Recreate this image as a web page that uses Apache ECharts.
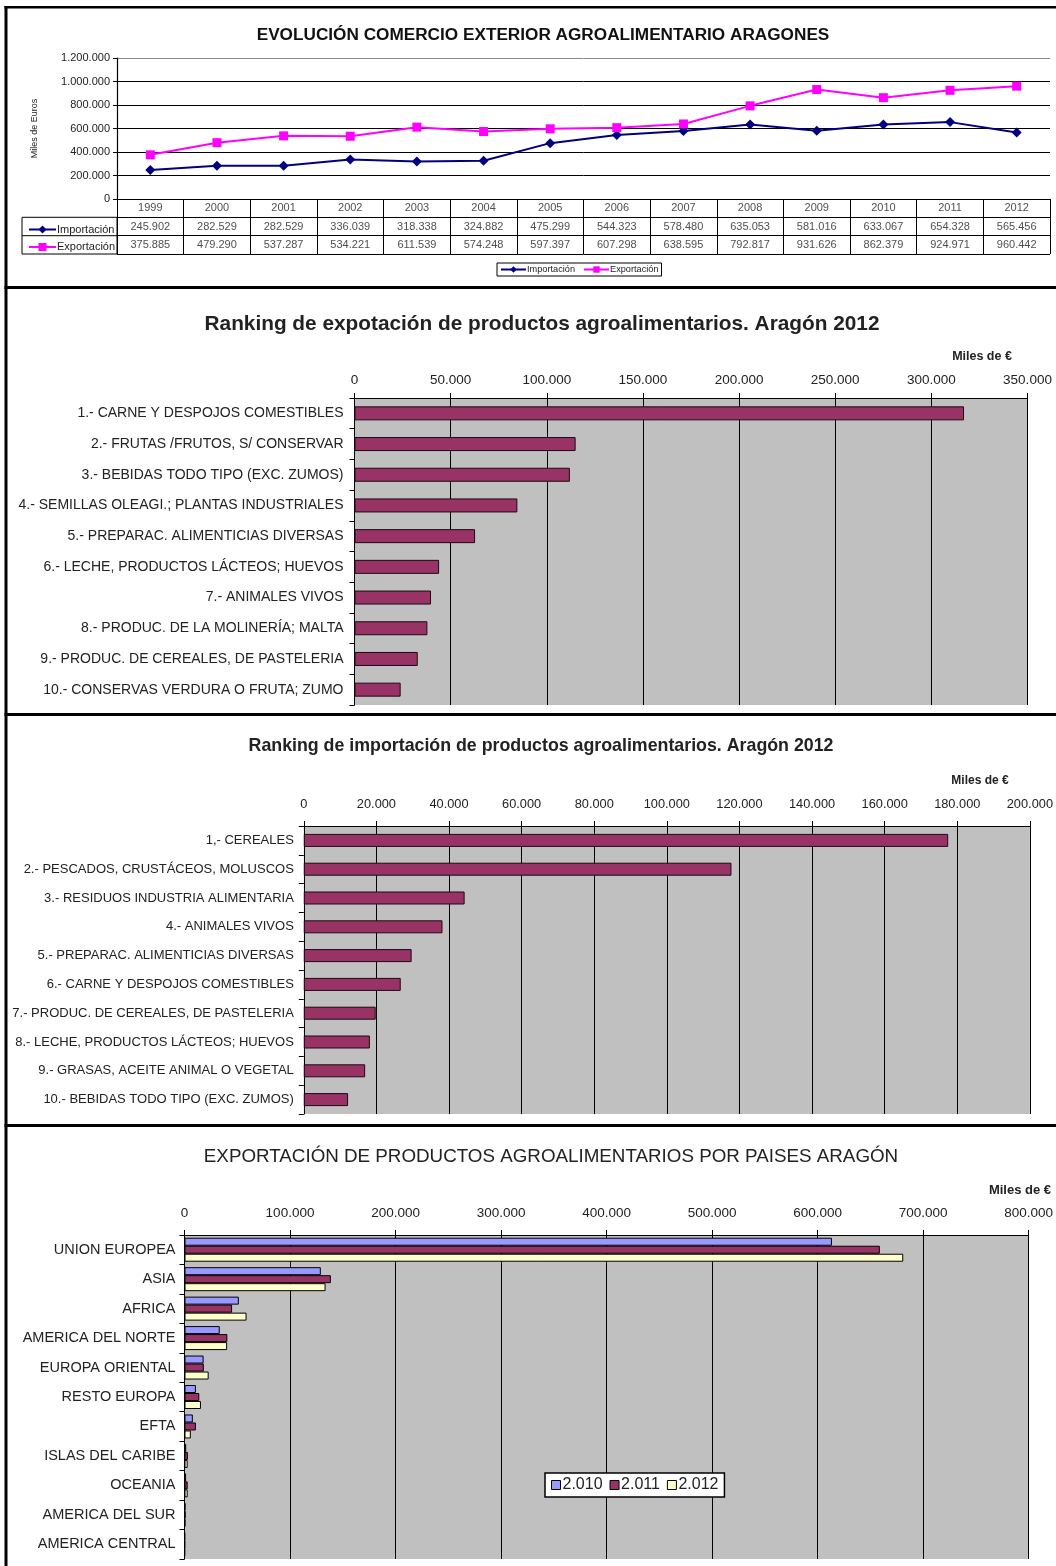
<!DOCTYPE html>
<html>
<head>
<meta charset="utf-8">
<script src="https://cdn.jsdelivr.net/npm/echarts@6.0.0/dist/echarts.min.js"></script>
<style>
html,body{margin:0;padding:0;background:#fff;}
#main{width:1056px;height:1566px;}
</style>
</head>
<body>
<div id="main"></div>
<script>
// ---------- DATA ----------
const years = ['1999','2000','2001','2002','2003','2004','2005','2006','2007','2008','2009','2010','2011','2012'];
const importacion = [245902,282529,282529,336039,318338,324882,475299,544323,578480,635053,581016,633067,654328,565456];
const exportacion = [375885,479290,537287,534221,611539,574248,597397,607298,638595,792817,931626,862379,924971,960442];

const expCats = ['1.- CARNE Y DESPOJOS COMESTIBLES','2.- FRUTAS /FRUTOS, S/ CONSERVAR','3.- BEBIDAS TODO TIPO (EXC. ZUMOS)','4.- SEMILLAS OLEAGI.; PLANTAS INDUSTRIALES','5.- PREPARAC. ALIMENTICIAS DIVERSAS','6.- LECHE, PRODUCTOS LÁCTEOS; HUEVOS','7.- ANIMALES VIVOS','8.- PRODUC. DE LA MOLINERÍA; MALTA','9.- PRODUC. DE CEREALES, DE PASTELERIA','10.- CONSERVAS VERDURA O FRUTA; ZUMO'];
const expVals = [317000,115000,112000,84700,62700,44000,39800,37900,32900,24000];

const impCats = ['1,- CEREALES','2.- PESCADOS, CRUSTÁCEOS, MOLUSCOS','3.- RESIDUOS INDUSTRIA ALIMENTARIA','4.- ANIMALES VIVOS','5.- PREPARAC. ALIMENTICIAS DIVERSAS','6.- CARNE Y DESPOJOS COMESTIBLES','7.- PRODUC. DE CEREALES, DE PASTELERIA','8.- LECHE, PRODUCTOS LÁCTEOS; HUEVOS','9.- GRASAS, ACEITE ANIMAL O VEGETAL','10.- BEBIDAS TODO TIPO (EXC. ZUMOS)'];
const impVals = [177500,117800,44300,38200,29700,26700,19800,18200,16900,12200];

const regions = ['UNION EUROPEA','ASIA','AFRICA','AMERICA DEL NORTE','EUROPA ORIENTAL','RESTO EUROPA','EFTA','ISLAS DEL CARIBE','OCEANIA','AMERICA DEL SUR','AMERICA CENTRAL'];
const v2010 = [613600,129200,51500,33400,18100,10800,7900,1600,1500,900,500];
const v2011 = [659000,138700,45100,40600,18300,14000,10800,3200,3000,1000,500];
const v2012 = [681200,133700,58800,40400,22900,15600,6000,3000,3000,800,400];
const yearNames = ['2.010','2.011','2.012'];

const tableRows = ['Año','Importación','Exportación'];

// ---------- HELPERS ----------
const FONT = 'Liberation Sans, Arial, sans-serif';
function fmt(v){ return String(v).replace(/\B(?=(\d{3})+(?!\d))/g,'.'); }

const tableData = [];
years.forEach(function(y,i){
  tableData.push({value:[i,0], name:y});
  tableData.push({value:[i,1], name:fmt(importacion[i])});
  tableData.push({value:[i,2], name:fmt(exportacion[i])});
});

const chart = echarts.init(document.getElementById('main'), null, {renderer:'canvas'});

function rankXAxis(gi, max, interval, margin, fs){
  return {
    gridIndex: gi, type:'value', position:'top', min:0, max:max, interval:interval,
    axisLine:{show:true, lineStyle:{color:'#000', width:1}},
    axisTick:{show:true, length:5, lineStyle:{color:'#000'}},
    axisLabel:{margin:margin, color:'#222', fontSize:fs, fontFamily:FONT, formatter:fmt},
    splitLine:{show:true, lineStyle:{color:'#000', width:1}}
  };
}
function rankYAxis(gi, cats, margin, fs){
  return {
    gridIndex: gi, type:'category', data:cats, inverse:true,
    axisLine:{show:true, lineStyle:{color:'#000', width:1}},
    axisTick:{show:true, length:5, lineStyle:{color:'#000'}},
    axisLabel:{margin:margin, color:'#222', fontSize:fs, fontFamily:FONT},
    splitLine:{show:false}
  };
}

const option = {
  animation:false,
  backgroundColor:'#fff',
  title:[
    {text:'EVOLUCIÓN COMERCIO EXTERIOR AGROALIMENTARIO ARAGONES', left:538, top:22, textAlign:'center',
      textStyle:{fontFamily:FONT, fontSize:17.2, fontWeight:'bold', color:'#111'}},
    {text:'Ranking de expotación de productos agroalimentarios. Aragón 2012', left:537, top:309, textAlign:'center',
      textStyle:{fontFamily:FONT, fontSize:20.8, fontWeight:'bold', color:'#222'}},
    {text:'Miles de €', left:977, top:345, textAlign:'center',
      textStyle:{fontFamily:FONT, fontSize:12.5, fontWeight:'bold', color:'#222'}},
    {text:'Ranking de importación de productos agroalimentarios. Aragón 2012', left:536, top:732, textAlign:'center',
      textStyle:{fontFamily:FONT, fontSize:17.8, fontWeight:'bold', color:'#222'}},
    {text:'Miles de €', left:975, top:770, textAlign:'center',
      textStyle:{fontFamily:FONT, fontSize:12, fontWeight:'bold', color:'#222'}},
    {text:'EXPORTACIÓN DE PRODUCTOS AGROALIMENTARIOS POR PAISES ARAGÓN', left:546, top:1142, textAlign:'center',
      textStyle:{fontFamily:FONT, fontSize:18.8, fontWeight:'normal', color:'#222'}},
    {text:'Miles de €', left:1015, top:1179, textAlign:'center',
      textStyle:{fontFamily:FONT, fontSize:13, fontWeight:'bold', color:'#222'}}
  ],
  legend:[
    {
      data:['Importación','Exportación'], orient:'vertical', left:23, top:219,
      itemWidth:27, itemHeight:10, itemGap:6.5,
      textStyle:{fontFamily:FONT, fontSize:11, color:'#222', padding:[0,0,0,-4]},
      selectedMode:false
    },
    {
      data:['Importación','Exportación'], orient:'horizontal', left:497, top:263,
      itemWidth:25, itemHeight:8, itemGap:8, padding:[2,3,2,3],
      borderColor:'#000', borderWidth:1, backgroundColor:'#fff',
      textStyle:{fontFamily:FONT, fontSize:9.2, color:'#222', padding:[0,0,0,-4]},
      selectedMode:false
    },
    {
      data:yearNames, orient:'horizontal', left:545, top:1473,
      icon:'rect', itemWidth:9, itemHeight:9, itemGap:7, padding:[4,6,4,6],
      borderColor:'#000', borderWidth:1.5, backgroundColor:'#fff',
      itemStyle:{borderColor:'#000', borderWidth:1},
      textStyle:{fontFamily:FONT, fontSize:16, color:'#222', padding:[0,0,0,-3]},
      selectedMode:false
    }
  ],
  grid:[
    {left:117, top:58, width:933, height:141, containLabel:false},
    {left:117, top:199, width:933, height:55, containLabel:false},
    {left:354.5, top:398, width:673, height:307, show:true, backgroundColor:'#C0C0C0', borderWidth:0},
    {left:303.8, top:826, width:727, height:288, show:true, backgroundColor:'#C0C0C0', borderWidth:0},
    {left:184.5, top:1235, width:848, height:324, show:true, backgroundColor:'#C0C0C0', borderWidth:0}
  ],
  xAxis:[
    {gridIndex:0, type:'category', data:years, boundaryGap:true,
      axisLine:{show:true, lineStyle:{color:'#000', width:1.2}}, axisTick:{show:false}, axisLabel:{show:false}, splitLine:{show:false}},
    {gridIndex:1, type:'category', data:years, boundaryGap:true,
      axisLine:{show:false}, axisTick:{show:false}, axisLabel:{show:false},
      splitLine:{show:true, lineStyle:{color:'#000', width:1}}},
    rankXAxis(2, 350000, 50000, 11, 13.5),
    rankXAxis(3, 200000, 20000, 15, 12.8),
    rankXAxis(4, 800000, 100000, 15, 13.5)
  ],
  yAxis:[
    {gridIndex:0, type:'value', min:0, max:1200000, interval:200000,
      name:'Miles de Euros', nameLocation:'middle', nameRotate:90, nameGap:78,
      nameTextStyle:{fontFamily:FONT, fontSize:9, color:'#222'},
      axisLine:{show:true, lineStyle:{color:'#000', width:1.2}},
      axisTick:{show:true, length:4, lineStyle:{color:'#000'}},
      axisLabel:{margin:7, fontFamily:FONT, fontSize:11, color:'#222', formatter:fmt},
      splitLine:{show:true, lineStyle:{color:['#000','#000','#000','#000','#000','#000','#8a8a8a'], width:1}}},
    {gridIndex:1, type:'category', data:tableRows, inverse:true,
      axisLine:{show:false}, axisTick:{show:false}, axisLabel:{show:false},
      splitLine:{show:true, lineStyle:{color:'#000', width:1}}},
    rankYAxis(2, expCats, 11, 14),
    rankYAxis(3, impCats, 10, 13),
    rankYAxis(4, regions, 9, 14.5)
  ],
  series:[
    {name:'Importación', type:'line', xAxisIndex:0, yAxisIndex:0, data:importacion,
      symbol:'diamond', symbolSize:10, lineStyle:{color:'#000080', width:2},
      itemStyle:{color:'#000080'}, z:3},
    {name:'Exportación', type:'line', xAxisIndex:0, yAxisIndex:0, data:exportacion,
      symbol:'rect', symbolSize:9, lineStyle:{color:'#FF00FF', width:2},
      itemStyle:{color:'#FF00FF'}, z:3},
    {name:'tabla', type:'scatter', xAxisIndex:1, yAxisIndex:1, data:tableData,
      symbolSize:1, itemStyle:{color:'rgba(0,0,0,0)'}, silent:true,
      label:{show:true, position:'inside', formatter:'{b}', fontFamily:FONT, fontSize:11, color:'#222'}},
    {name:'Exportación 2012', type:'bar', xAxisIndex:2, yAxisIndex:2, data:expVals, barWidth:14,
      itemStyle:{color:'#993366', borderColor:'#1a0a12', borderWidth:1}},
    {name:'Importación 2012', type:'bar', xAxisIndex:3, yAxisIndex:3, data:impVals, barWidth:13,
      itemStyle:{color:'#993366', borderColor:'#1a0a12', borderWidth:1}},
    {name:'2.010', type:'bar', xAxisIndex:4, yAxisIndex:4, data:v2010, barWidth:8, barGap:'0%',
      itemStyle:{color:'#9999FF', borderColor:'#000', borderWidth:1}},
    {name:'2.011', type:'bar', xAxisIndex:4, yAxisIndex:4, data:v2011, barWidth:8, barGap:'0%',
      itemStyle:{color:'#993366', borderColor:'#000', borderWidth:1}},
    {name:'2.012', type:'bar', xAxisIndex:4, yAxisIndex:4, data:v2012, barWidth:8, barGap:'0%',
      itemStyle:{color:'#FFFFCC', borderColor:'#000', borderWidth:1}}
  ],
  graphic:[
    // table row-header column
    {type:'rect', shape:{x:22, y:217.3, width:95, height:36.7}, style:{fill:'none', stroke:'#000', lineWidth:1}, silent:true},
    {type:'line', shape:{x1:22, y1:235.7, x2:117, y2:235.7}, style:{stroke:'#000', lineWidth:1}, silent:true},
    // panel frames
    {type:'rect', shape:{x:4.5, y:6, width:3, height:1560}, style:{fill:'#000'}, silent:true},
    {type:'rect', shape:{x:4.5, y:6, width:1052, height:2.5}, style:{fill:'#000'}, silent:true},
    {type:'rect', shape:{x:4.5, y:286, width:1052, height:3}, style:{fill:'#000'}, silent:true},
    {type:'rect', shape:{x:4.5, y:713, width:1052, height:3}, style:{fill:'#000'}, silent:true},
    {type:'rect', shape:{x:4.5, y:1124, width:1052, height:3}, style:{fill:'#000'}, silent:true}
  ]
};
chart.setOption(option);
</script>
</body>
</html>
